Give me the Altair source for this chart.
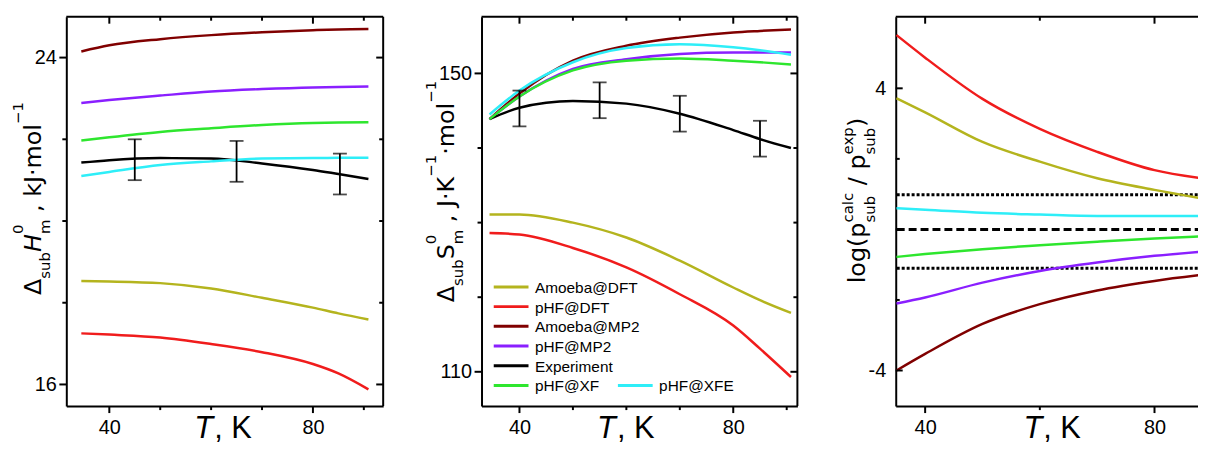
import altair as alt
import pandas as pd

# ---------------- data ----------------
SERIES = ["Amoeba@DFT", "pHF@DFT", "Amoeba@MP2", "pHF@MP2", "Experiment", "pHF@XF", "pHF@XFE"]
COLORS = ["#B4B41E", "#F01C1C", "#800000", "#8A1FFF", "#000000", "#2EE62E", "#2EEEF8"]

# Panel 1: sublimation enthalpy, kJ/mol
T_H = [34.5, 40, 50, 60, 70, 80, 85, 90.9]
H_AMOEBA_DFT = [18.53, 18.52, 18.48, 18.35, 18.12, 17.88, 17.74, 17.59]
H_PHF_DFT = [17.25, 17.22, 17.15, 16.99, 16.79, 16.50, 16.27, 15.88]
H_AMOEBA_MP2 = [24.15, 24.30, 24.45, 24.55, 24.62, 24.67, 24.69, 24.70]
H_PHF_MP2 = [22.89, 22.96, 23.07, 23.17, 23.23, 23.27, 23.28, 23.29]
H_EXPERIMENT = [21.43, 21.49, 21.54, 21.53, 21.41, 21.25, 21.15, 21.03]
H_PHF_XF = [21.97, 22.05, 22.18, 22.27, 22.35, 22.40, 22.41, 22.42]
H_PHF_XFE = [21.10, 21.20, 21.37, 21.46, 21.53, 21.54, 21.55, 21.55]
H_EXP_T = [45, 65, 85.3]
H_EXP_MID = [21.50, 21.46, 21.15]
H_EXP_ERR = [0.50, 0.50, 0.50]

# Panel 2: sublimation entropy, J/K/mol
T_S = [34.4, 40, 50, 60, 70, 80, 85, 90.8]
S_AMOEBA_DFT = [131.1, 131.1, 130.0, 128.0, 124.9, 121.3, 119.6, 117.9]
S_PHF_DFT = [128.6, 128.4, 126.6, 124.0, 120.4, 116.2, 113.1, 109.3]
S_AMOEBA_MP2 = [143.87, 147.3, 151.7, 153.7, 154.8, 155.5, 155.7, 155.9]
S_PHF_MP2 = [143.87, 146.9, 150.6, 151.9, 152.6, 152.8, 152.8, 152.8]
S_EXPERIMENT = [143.87, 145.4, 146.3, 145.95, 144.6, 142.4, 141.2, 140.0]
S_PHF_XF = [143.87, 146.9, 150.4, 151.7, 152.0, 151.7, 151.5, 151.2]
S_PHF_XFE = [144.5, 147.7, 151.5, 153.4, 153.9, 153.5, 153.1, 152.5]
S_EXP_T = [40, 55, 70, 85]
S_EXP_MID = [145.3, 146.4, 144.6, 141.25]
S_EXP_ERR = [2.4, 2.4, 2.4, 2.4]

# Panel 3: log(p_calc / p_exp)
T_P = [35, 40, 50, 60, 70, 80, 88.2]
P_AMOEBA_DFT = [3.72, 3.32, 2.48, 1.92, 1.45, 1.12, 0.88]
P_PHF_DFT = [5.51, 4.87, 3.70, 2.85, 2.20, 1.68, 1.45]
P_AMOEBA_MP2 = [-4.00, -3.53, -2.68, -2.12, -1.73, -1.46, -1.29]
P_PHF_MP2 = [-2.10, -1.93, -1.51, -1.18, -0.94, -0.75, -0.63]
P_PHF_XF = [-0.78, -0.70, -0.56, -0.45, -0.35, -0.26, -0.20]
P_PHF_XFE = [0.60, 0.56, 0.47, 0.42, 0.38, 0.38, 0.38]
P_DOTTED = [0.98, -1.10]
P_DASHED = [0.0]

# axis ticks
H_X_MAJOR, H_X_MINOR = [40, 80], [50, 60, 70, 90]
H_Y_MAJOR, H_Y_MINOR = [16, 24], [18, 20, 22]
S_X_MAJOR, S_X_MINOR = [40, 80], [50, 60, 70, 90]
S_Y_MAJOR, S_Y_MINOR = [110, 150], [120, 130, 140]
P_X_MAJOR, P_X_MINOR = [40, 80], [60]
P_Y_MAJOR, P_Y_MINOR = [-4, 4], [-2, 0, 2]


def long_df(T, cols):
    rows = []
    for name, vals in cols:
        for t, v in zip(T, vals):
            rows.append({"T": t, "val": v, "series": name, "order": SERIES.index(name)})
    return pd.DataFrame(rows)


df_H = long_df(T_H, [("Amoeba@DFT", H_AMOEBA_DFT), ("pHF@DFT", H_PHF_DFT),
                     ("Amoeba@MP2", H_AMOEBA_MP2), ("pHF@MP2", H_PHF_MP2),
                     ("Experiment", H_EXPERIMENT), ("pHF@XF", H_PHF_XF),
                     ("pHF@XFE", H_PHF_XFE)])
df_S = long_df(T_S, [("Amoeba@DFT", S_AMOEBA_DFT), ("pHF@DFT", S_PHF_DFT),
                     ("Amoeba@MP2", S_AMOEBA_MP2), ("pHF@MP2", S_PHF_MP2),
                     ("Experiment", S_EXPERIMENT), ("pHF@XF", S_PHF_XF),
                     ("pHF@XFE", S_PHF_XFE)])
df_P = long_df(T_P, [("Amoeba@DFT", P_AMOEBA_DFT), ("pHF@DFT", P_PHF_DFT),
                     ("Amoeba@MP2", P_AMOEBA_MP2), ("pHF@MP2", P_PHF_MP2),
                     ("pHF@XF", P_PHF_XF), ("pHF@XFE", P_PHF_XFE)])

ONE = pd.DataFrame({"k": [0]})
COLOR = alt.Color("series:N", scale=alt.Scale(domain=SERIES, range=COLORS), legend=None)

# ---------------- layout ----------------
H = 392
W1, W2, W3 = 319, 318, 309
GAP = 99
LABEL_FONT = "Liberation Sans"
TITLE_FONT = "DejaVu Sans"

DJ = {"Δ": 0.684, "s": 0.521, "u": 0.634, "b": 0.635, "H": 0.752, "S": 0.635,
      "0": 0.636, "m": 0.974, ",": 0.318, " ": 0.318, "k": 0.579, "J": 0.295,
      "·": 0.318, "o": 0.612, "l": 0.278, "−": 0.838, "1": 0.636, "K": 0.656,
      "g": 0.635, "(": 0.390, ")": 0.390, "p": 0.635, "c": 0.550, "a": 0.613,
      "e": 0.615, "x": 0.592, "/": 0.337}


def text_len(t, size):
    return sum(DJ.get(c, 0.6) for c in t) * size


def ytitle(groups, base_x, center_y, sup_dx, sub_dx, main=24, small=15):
    sizes = {"M": main, "MI": main, "P": small, "B": small}
    lens = [max(text_len(t, sizes[k]) for t, k in g) for g in groups]
    y = center_y + sum(lens) / 2
    layers = []
    for g, L in zip(groups, lens):
        for t, k in g:
            size = sizes[k]
            lead = len(t) - len(t.lstrip(" "))
            bx = base_x + (sup_dx if k == "P" else sub_dx if k == "B" else 0)
            layers.append(
                alt.Chart(ONE).mark_text(
                    text=t.strip(), angle=270, align="left", baseline="alphabetic",
                    font=TITLE_FONT, fontSize=size, color="black",
                    fontStyle="italic" if k == "MI" else "normal",
                ).encode(x=alt.value(bx), y=alt.value(y - lead * DJ[" "] * size))
            )
        y -= L
    return layers


def xtitle(cx, by, size=31):
    wT = 0.611 * size
    wR = (0.278 + 0.278 + 0.667) * size
    x0 = cx - (wT + wR) / 2
    t1 = alt.Chart(ONE).mark_text(text="T", fontStyle="italic", align="left",
                                  baseline="alphabetic", font=LABEL_FONT, fontSize=size,
                                  color="black").encode(x=alt.value(x0), y=alt.value(by))
    t2 = alt.Chart(ONE).mark_text(text=", K", align="left", baseline="alphabetic",
                                  font=LABEL_FONT, fontSize=size,
                                  color="black").encode(x=alt.value(x0 + wT + 1), y=alt.value(by))
    return [t1, t2]


def panel(df, W, xdom, ydom, xmaj, xmin, ymaj, ymin, left_inside=False, right_frame=True,
          ylabel_pad=10):
    xs = alt.Scale(domain=xdom, nice=False, zero=False)
    ys = alt.Scale(domain=ydom, nice=False, zero=False)
    xcond = " || ".join(f"datum.value == {v}" for v in xmaj)
    ycond = " || ".join(f"datum.value == {v}" for v in ymaj)
    xaxis = alt.Axis(values=sorted(xmaj + xmin), labelExpr=f"({xcond}) ? '' + datum.value : ''",
                     ticks=False, labelPadding=12, title=None, grid=False)
    yaxis = alt.Axis(values=sorted(ymaj + ymin), labelExpr=f"({ycond}) ? '' + datum.value : ''",
                     ticks=False, labelPadding=ylabel_pad, title=None, grid=False)
    lines = alt.Chart(df).mark_line(strokeWidth=2.5, interpolate="monotone").encode(
        x=alt.X("T:Q", scale=xs, axis=xaxis),
        y=alt.Y("val:Q", scale=ys, axis=yaxis),
        color=COLOR,
        order="order:Q",
    )
    layers = [lines]
    rule = dict(color="black", strokeWidth=2)
    layers.append(alt.Chart(ONE).mark_rule(**rule).encode(
        x=alt.value(0), x2=alt.value(W), y=alt.value(0)))
    if right_frame:
        layers.append(alt.Chart(ONE).mark_rule(**rule).encode(
            x=alt.value(W), y=alt.value(0), y2=alt.value(H)))
    for vals, L in ((xmaj, 7), (xmin, 4)):
        d = pd.DataFrame({"T": vals})
        layers.append(alt.Chart(d).mark_rule(**rule).encode(
            x=alt.X("T:Q", scale=xs), y=alt.value(H), y2=alt.value(H + L)))
        layers.append(alt.Chart(d).mark_rule(**rule).encode(
            x=alt.X("T:Q", scale=xs), y=alt.value(0), y2=alt.value(L)))
    for vals, L in ((ymaj, 7), (ymin, 4)):
        d = pd.DataFrame({"val": vals})
        if left_inside:
            layers.append(alt.Chart(d).mark_rule(**rule).encode(
                y=alt.Y("val:Q", scale=ys), x=alt.value(0), x2=alt.value(L)))
        else:
            layers.append(alt.Chart(d).mark_rule(**rule).encode(
                y=alt.Y("val:Q", scale=ys), x=alt.value(-L), x2=alt.value(0)))
        if right_frame:
            layers.append(alt.Chart(d).mark_rule(**rule).encode(
                y=alt.Y("val:Q", scale=ys), x=alt.value(W - L), x2=alt.value(W)))
    return layers, xs, ys


def errorbars(T, mid, err, xs, ys):
    d = pd.DataFrame({"T": T, "mid": mid, "err": err})
    base = alt.Chart(d).transform_calculate(lo="datum.mid - datum.err", hi="datum.mid + datum.err")
    bar = base.mark_rule(color="black", strokeWidth=1.8).encode(
        x=alt.X("T:Q", scale=xs), y=alt.Y("lo:Q", scale=ys), y2="hi:Q")
    cap_lo = base.mark_tick(color="black", orient="horizontal", size=14, thickness=1.8).encode(
        x=alt.X("T:Q", scale=xs), y=alt.Y("lo:Q", scale=ys))
    cap_hi = base.mark_tick(color="black", orient="horizontal", size=14, thickness=1.8).encode(
        x=alt.X("T:Q", scale=xs), y=alt.Y("hi:Q", scale=ys))
    return [bar, cap_lo, cap_hi]


XT_Y = 424  # baseline of the "T, K" titles (relative to plot top)

# ---------- panel 1 ----------
l1, xs1, ys1 = panel(df_H, W1, [31.55, 93.8], [15.47, 25.0], H_X_MAJOR, H_X_MINOR,
                     H_Y_MAJOR, H_Y_MINOR)
l1 += errorbars(H_EXP_T, H_EXP_MID, H_EXP_ERR, xs1, ys1)
l1 += ytitle([[("Δ", "M")], [("sub", "B")], [("H", "MI")], [("0", "P"), ("m", "B")],
              [(" , kJ·mol", "M")], [("−1", "P")]],
             base_x=-25.7, center_y=183, sup_dx=-18, sub_dx=9)
l1 += xtitle(157.3, XT_Y)
p1 = alt.layer(*l1).properties(width=W1, height=H)

# ---------- panel 2 ----------
l2, xs2, ys2 = panel(df_S, W2, [32.9, 92.0], [105.4, 157.6], S_X_MAJOR, S_X_MINOR,
                     S_Y_MAJOR, S_Y_MINOR)
l2 += errorbars(S_EXP_T, S_EXP_MID, S_EXP_ERR, xs2, ys2)
l2 += ytitle([[("Δ", "M")], [("sub", "B")], [("S", "M")], [("0", "P"), ("m", "B")],
              [(" , J·K", "M")], [("−1", "P")], [("·mol", "M")], [("−1", "P")]],
             base_x=-27.7, center_y=176, sup_dx=-18, sub_dx=9)
l2 += xtitle(144.8, XT_Y)
for i, (name, colr) in enumerate(zip(SERIES, COLORS)):
    if i < 6:
        col_x, row = 12.3, i
    else:
        col_x, row = 137.3, 5
    ly = 272 + row * 19.85
    l2.append(alt.Chart(ONE).mark_rule(color=colr, strokeWidth=3).encode(
        x=alt.value(col_x), x2=alt.value(col_x + 35), y=alt.value(ly)))
    l2.append(alt.Chart(ONE).mark_text(text=name, align="left", baseline="middle",
                                       font=LABEL_FONT, fontSize=15.5, color="black").encode(
        x=alt.value(col_x + 41.5), y=alt.value(ly + 1)))
p2 = alt.layer(*l2).properties(width=W2, height=H)

# ---------- panel 3 ----------
l3, xs3, ys3 = panel(df_P, W3, [34.87, 88.4], [-5.01, 6.03], P_X_MAJOR, P_X_MINOR,
                     P_Y_MAJOR, P_Y_MINOR, left_inside=True, right_frame=False, ylabel_pad=10)
l3.insert(0, alt.Chart(pd.DataFrame({"val": P_DOTTED})).mark_rule(
    color="black", strokeWidth=3, strokeDash=[3, 2]).encode(y=alt.Y("val:Q", scale=ys3)))
l3.insert(0, alt.Chart(pd.DataFrame({"val": P_DASHED})).mark_rule(
    color="black", strokeWidth=3, strokeDash=[8, 4]).encode(y=alt.Y("val:Q", scale=ys3)))
l3 += ytitle([[("log(p", "M")], [("calc", "P"), ("sub", "B")], [(" / p", "M")],
              [("exp", "P"), ("sub", "B")], [(")", "M")]],
             base_x=-30.7, center_y=185, sup_dx=-12, sub_dx=10)
l3 += xtitle(157, XT_Y)
p3 = alt.layer(*l3).properties(width=W3, height=H)

chart = alt.hconcat(p1, p2, p3, spacing=GAP, bounds="flush").properties(
    autosize=alt.AutoSizeParams(type="none"),
    padding={"left": 58.7, "top": 6, "right": 1139.3, "bottom": 431},
    background="white",
).configure_view(strokeWidth=0).configure_axis(
    domainColor="black", domainWidth=2, labelFont=LABEL_FONT, labelFontSize=20,
    labelColor="black", grid=False,
)

chart.save("out.html", embed_options={"renderer": "svg", "actions": False})
